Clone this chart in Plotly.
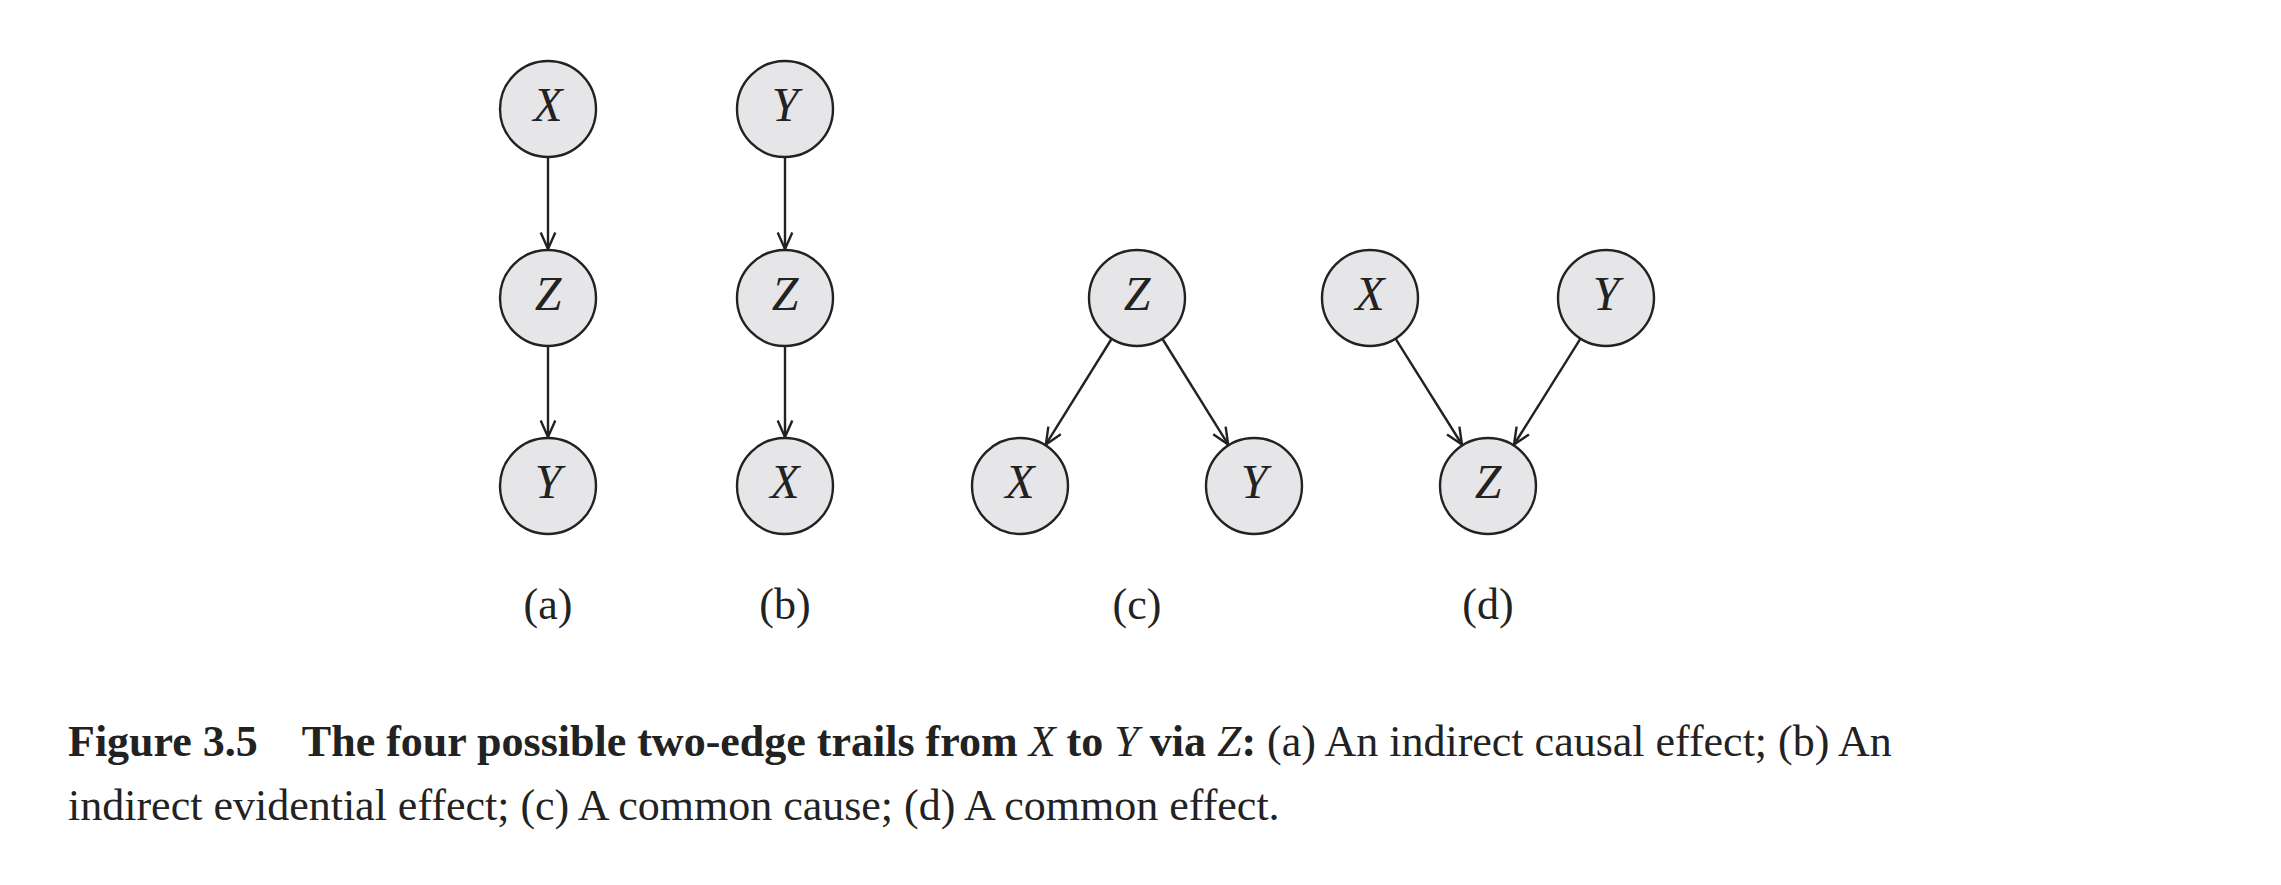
import numpy as np
import plotly.graph_objects as go

W, H = 2281, 885

# node labels and positions (pixel space) per panel
panel_names = ["(a)", "(b)", "(c)", "(d)"]
panel_label_x = [540, 777, 1129, 1480]
panel_label_y = 600

nodes = {
    "a": {"X": (540, 101), "Z": (540, 290), "Y": (540, 478)},
    "b": {"Y": (777, 101), "Z": (777, 290), "X": (777, 478)},
    "c": {"Z": (1129, 290), "X": (1012, 478), "Y": (1246, 478)},
    "d": {"X": (1362, 290), "Y": (1598, 290), "Z": (1480, 478)},
}
edges = {
    "a": [("X", "Z"), ("Z", "Y")],
    "b": [("Y", "Z"), ("Z", "X")],
    "c": [("Z", "X"), ("Z", "Y")],
    "d": [("X", "Z"), ("Y", "Z")],
}

R = 48
fig = go.Figure()

for p in nodes:
    for a, b in edges[p]:
        x0, y0 = nodes[p][a]
        x1, y1 = nodes[p][b]
        d = np.array([x1 - x0, y1 - y0], float)
        u = d / np.hypot(*d)
        s = np.array([x0, y0]) + u * R
        e = np.array([x1, y1]) - u * (R + 1)
        fig.add_trace(go.Scatter(x=[s[0], e[0]], y=[s[1], e[1]], mode="lines",
                                 line=dict(color="#222", width=2.4), hoverinfo="skip"))
        ang = np.radians(24)
        hl = 18
        pts = []
        for sg in (1, -1):
            c, sn = np.cos(sg * ang), np.sin(sg * ang)
            r = np.array([u[0] * c - u[1] * sn, u[0] * sn + u[1] * c])
            pts.append(e - r * hl)
        fig.add_trace(go.Scatter(x=[pts[0][0], e[0], pts[1][0]], y=[pts[0][1], e[1], pts[1][1]],
                                 mode="lines", line=dict(color="#222", width=2.4), hoverinfo="skip"))

for p in nodes:
    xs = [v[0] for v in nodes[p].values()]
    ys = [v[1] for v in nodes[p].values()]
    fig.add_trace(go.Scatter(x=xs, y=ys, mode="markers+text",
                             text=["<i>%s</i>" % k for k in nodes[p].keys()],
                             textposition="middle center",
                             textfont=dict(family="Liberation Serif", size=48, color="#222"),
                             marker=dict(size=2 * R, color="#e6e6e8", line=dict(color="#222", width=2.4)),
                             hoverinfo="skip"))

fig.add_trace(go.Scatter(x=panel_label_x, y=[panel_label_y] * 4, mode="text", text=panel_names,
                         textfont=dict(family="Liberation Serif", size=44, color="#222"), hoverinfo="skip"))

cap1 = ("<b>Figure 3.5</b>    <b>The four possible two-edge trails from</b> <i>X</i> <b>to</b> <i>Y</i> "
        "<b>via</b> <i>Z</i><b>:</b> (a) An indirect causal effect; (b) An")
cap2 = "indirect evidential effect; (c) A common cause; (d) A common effect."
for txt, y in [(cap1, 733), (cap2, 797)]:
    fig.add_annotation(x=58, y=y, text=txt, showarrow=False, xanchor="left", yanchor="middle",
                       font=dict(family="Liberation Serif", size=44, color="#222"))

fig.update_layout(width=W, height=H, margin=dict(l=0, r=0, t=0, b=0), showlegend=False,
                  plot_bgcolor="white", paper_bgcolor="white")
fig.update_xaxes(range=[0, W], visible=False)
fig.update_yaxes(range=[H, 0], visible=False)
fig.write_html("out.html")
